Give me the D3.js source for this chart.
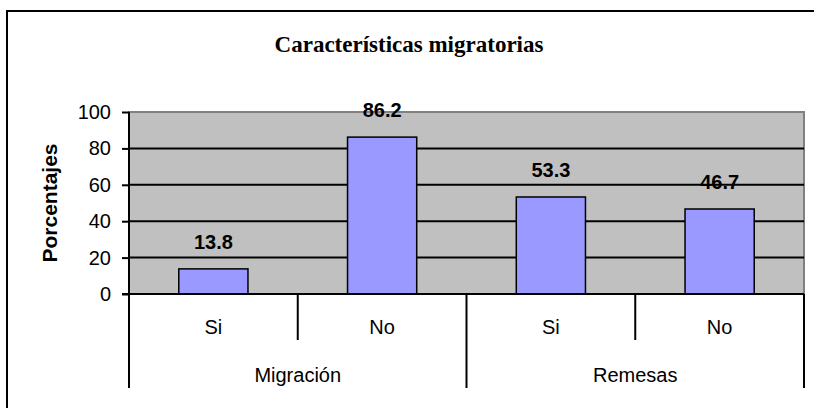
<!DOCTYPE html>
<html>
<head>
<meta charset="utf-8">
<script src="https://cdn.jsdelivr.net/npm/d3@7"></script>
<style>
  body { margin: 0; background: #fff; }
  svg { display: block; }
</style>
</head>
<body>
<div id="chart"></div>
<script>
const title = 'Características migratorias';
const yLabel = 'Porcentajes';
const groups = ['Migración', 'Remesas'];
const answers = ['Si', 'No', 'Si', 'No'];
const answerGroup = ['Migración', 'Migración', 'Remesas', 'Remesas'];
const values = [13.8, 86.2, 53.3, 46.7];
const yTicks = [0, 20, 40, 60, 80, 100];

const width = 814;
const height = 408;
const plot = { left: 129, right: 804, top: 112, bottom: 294 };
const sans = '"Liberation Sans", Arial, sans-serif';

const svg = d3.select('#chart')
  .append('svg')
  .attr('width', width)
  .attr('height', height);

// outer frame (runs off the right and bottom edges like the source)
svg.append('rect')
  .attr('x', 7).attr('y', 11)
  .attr('width', 900).attr('height', 500)
  .attr('fill', 'none')
  .attr('stroke', '#000')
  .attr('stroke-width', 2);

svg.append('text')
  .attr('x', 409).attr('y', 52)
  .attr('text-anchor', 'middle')
  .style('font-family', '"Liberation Serif", "Times New Roman", serif')
  .style('font-weight', 'bold')
  .style('font-size', '23px')
  .text(title);

const keys = answers.map((d, i) => answerGroup[i] + '-' + d);

const xScale = d3.scaleBand()
  .domain(keys)
  .range([plot.left, plot.right])
  .padding(0);

const yScale = d3.scaleLinear()
  .domain([0, 100])
  .range([plot.bottom, plot.top]);

// plot background
svg.append('rect')
  .attr('x', plot.left).attr('y', plot.top)
  .attr('width', plot.right - plot.left)
  .attr('height', plot.bottom - plot.top)
  .attr('fill', '#c0c0c0')
  .attr('stroke', '#808080')
  .attr('stroke-width', 2);

// gridlines
svg.append('g')
  .selectAll('line')
  .data(yTicks.filter(d => d > 0 && d < 100))
  .join('line')
  .attr('x1', plot.left).attr('x2', plot.right)
  .attr('y1', d => yScale(d)).attr('y2', d => yScale(d))
  .attr('stroke', '#000')
  .attr('stroke-width', 2);

// bars
const barW = xScale.bandwidth() * 0.41;
svg.append('g')
  .selectAll('rect')
  .data(values)
  .join('rect')
  .attr('x', (d, i) => xScale(keys[i]) + (xScale.bandwidth() - barW) / 2)
  .attr('y', d => yScale(d))
  .attr('width', barW)
  .attr('height', d => yScale(0) - yScale(d))
  .attr('fill', '#9999ff')
  .attr('stroke', '#000')
  .attr('stroke-width', 1.5);

// value labels
svg.append('g')
  .selectAll('text')
  .data(values)
  .join('text')
  .attr('x', (d, i) => xScale(keys[i]) + xScale.bandwidth() / 2)
  .attr('y', d => yScale(d) - 20)
  .attr('text-anchor', 'middle')
  .style('font-family', sans)
  .style('font-weight', 'bold')
  .style('font-size', '20px')
  .attr('fill', '#000')
  .text(d => d.toFixed(1));

// y axis
const yAxis = d3.axisLeft(yScale)
  .tickValues(yTicks)
  .tickSize(7)
  .tickPadding(11);

const yG = svg.append('g')
  .attr('transform', `translate(${plot.left}, 0)`)
  .call(yAxis);
yG.select('.domain').remove();
yG.selectAll('line').attr('stroke', '#000').attr('stroke-width', 2);
yG.selectAll('text')
  .style('font-family', sans)
  .style('font-size', '20px')
  .attr('fill', '#000');

// axis lines
svg.append('line')
  .attr('x1', plot.left).attr('x2', plot.left)
  .attr('y1', plot.top).attr('y2', 388)
  .attr('stroke', '#000').attr('stroke-width', 2);
svg.append('line')
  .attr('x1', plot.left - 7).attr('x2', plot.right)
  .attr('y1', plot.bottom).attr('y2', plot.bottom)
  .attr('stroke', '#000').attr('stroke-width', 2);

svg.append('text')
  .attr('transform', `translate(57, ${(plot.top + plot.bottom) / 2}) rotate(-90)`)
  .attr('text-anchor', 'middle')
  .style('font-family', sans)
  .style('font-weight', 'bold')
  .style('font-size', '21px')
  .text(yLabel);

// category axis: short dividers between answers, long ones between groups
const cat = svg.append('g');
keys.forEach((k, i) => {
  const xr = xScale(k) + xScale.bandwidth();
  const groupEnd = i === keys.length - 1 || answerGroup[i + 1] !== answerGroup[i];
  cat.append('line')
    .attr('x1', xr).attr('x2', xr)
    .attr('y1', plot.bottom).attr('y2', groupEnd ? 388 : 340)
    .attr('stroke', '#000').attr('stroke-width', 2);
});

cat.selectAll('text.ans')
  .data(answers)
  .join('text')
  .attr('class', 'ans')
  .attr('x', (d, i) => xScale(keys[i]) + xScale.bandwidth() / 2)
  .attr('y', 334)
  .attr('text-anchor', 'middle')
  .style('font-family', sans)
  .style('font-size', '20px')
  .text(d => d);

cat.selectAll('text.grp')
  .data(groups)
  .join('text')
  .attr('class', 'grp')
  .attr('x', g => {
    const idx = answerGroup.map((d, i) => d === g ? i : -1).filter(i => i >= 0);
    const x0 = xScale(keys[idx[0]]);
    const x1 = xScale(keys[idx[idx.length - 1]]) + xScale.bandwidth();
    return (x0 + x1) / 2;
  })
  .attr('y', 382)
  .attr('text-anchor', 'middle')
  .style('font-family', sans)
  .style('font-size', '20px')
  .text(d => d);
</script>
</body>
</html>
